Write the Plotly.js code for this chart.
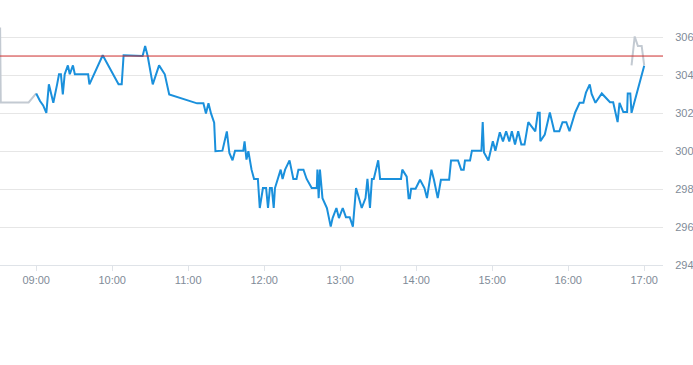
<!DOCTYPE html>
<html>
<head>
<meta charset="utf-8">
<script src="https://cdn.plot.ly/plotly-3.0.1.min.js"></script>
<style>html,body{margin:0;padding:0;background:#fff;}#chart{width:693px;height:365px;}</style>
</head>
<body>
<div id="chart"></div>
<script>
const day = '2024-01-02 ';
const prevClose = 305.0;

const preTimes = ['08:31:30','08:32:00','08:54:00','09:00:00'];
const preValues = [306.5, 302.56, 302.56, 303.03];

const postTimes = ['16:50:00','16:52:30','16:55:00','16:58:00','17:00:00'];
const postValues = [304.51, 306.03, 305.53, 305.53, 304.51];

const times = ['09:00:00','09:03:00','09:05:30','09:08:00','09:10:00','09:13:30','09:16:30','09:18:00','09:19:30','09:21:00',
'09:22:30','09:25:00','09:26:30','09:29:00','09:30:30','09:41:00','09:42:00','09:52:30','10:05:00','10:07:30',
'10:09:00','10:24:00','10:26:00','10:28:00','10:32:00','10:37:00','10:41:30','10:45:00','11:07:00','11:12:00',
'11:14:00','11:16:00','11:18:00','11:20:30','11:21:30','11:27:00','11:30:30','11:32:30','11:35:00','11:37:00',
'11:43:30','11:44:30','11:46:00','11:47:30','11:50:00','11:52:00','11:55:00','11:56:30','11:59:00','12:01:30',
'12:03:00','12:04:30','12:06:00','12:07:30','12:08:30','12:13:00','12:14:30','12:16:30','12:20:00','12:23:00',
'12:25:30','12:27:00','12:31:00','12:33:30','12:37:30','12:41:30','12:42:00','12:43:00','12:44:00','12:46:00',
'12:49:30','12:52:30','12:54:00','12:57:00','12:59:00','13:02:00','13:04:30','13:07:30','13:10:00','13:12:30',
'13:17:00','13:20:00','13:21:30','13:23:30','13:25:00','13:26:30','13:30:00','13:31:30','13:48:00','13:49:00',
'13:52:30','13:54:00','13:55:00','13:56:00','13:59:30','14:03:00','14:06:30','14:08:30','14:12:00','14:14:00',
'14:17:00','14:19:30','14:26:00','14:27:30','14:33:00','14:35:30','14:37:30','14:38:30','14:42:30','14:44:00',
'14:51:30','14:52:30','14:53:30','14:57:00','15:00:30','15:02:30','15:06:00','15:08:30','15:11:00','15:13:30',
'15:15:30','15:18:00','15:20:30','15:23:00','15:25:30','15:28:30','15:34:00','15:36:00','15:37:30','15:38:00',
'15:41:30','15:45:30','15:49:00','15:53:00','15:55:30','15:58:30','16:01:00','16:05:30','16:09:00','16:12:00',
'16:14:00','16:17:00','16:18:30','16:21:30','16:26:30','16:33:00','16:35:30','16:39:00','16:40:30','16:43:30',
'16:46:30','16:47:00','16:49:00','16:50:00','17:00:00'];
const values = [303.03,302.63,302.40,302.01,303.51,302.54,303.51,304.04,304.04,302.98,
304.04,304.51,304.04,304.51,304.04,304.04,303.51,305.04,303.51,303.51,
305.04,305.00,305.53,305.00,303.51,304.51,304.04,302.98,302.51,302.51,
301.98,302.51,301.98,301.49,299.99,300.02,301.03,299.90,299.51,300.02,
300.02,300.51,299.55,299.99,299.02,298.53,298.53,297.00,298.05,298.05,
297.00,298.05,298.05,297.00,298.05,299.02,298.53,299.02,299.51,298.53,
298.53,299.02,299.02,298.53,298.05,298.05,299.02,297.52,299.02,297.52,
297.00,296.02,296.47,297.00,296.47,297.00,296.52,296.52,296.02,298.05,
297.00,297.52,298.53,297.00,298.53,298.53,299.51,298.53,298.53,299.02,
298.65,297.52,297.52,298.02,298.02,298.49,298.05,297.52,299.02,298.49,
297.52,298.49,298.49,299.50,299.50,299.02,299.02,299.50,299.50,300.02,
300.02,301.52,299.92,299.50,300.51,300.01,300.99,300.51,301.04,300.50,
301.04,300.34,301.04,300.34,300.34,301.52,301.04,302.01,302.01,300.51,
300.87,302.03,301.04,301.04,301.52,301.52,301.04,302.03,302.54,302.54,
303.07,303.51,303.01,302.54,303.03,302.57,302.57,301.52,302.54,302.05,
302.05,303.03,303.03,302.01,304.49];

const tickFont = {family: 'Liberation Sans, Arial, sans-serif', size: 11, color: '#7f8b98'};

const traces = [
  {x: preTimes.map(t => day + t), y: preValues, type: 'scatter', mode: 'lines',
   line: {color: '#c3cad2', width: 2}, hoverinfo: 'skip'},
  {x: postTimes.map(t => day + t), y: postValues, type: 'scatter', mode: 'lines',
   line: {color: '#c3cad2', width: 2}, hoverinfo: 'skip'},
  {x: times.map(t => day + t), y: values, type: 'scatter', mode: 'lines',
   line: {color: '#1a90dc', width: 2}, hoverinfo: 'skip'}
];

const layout = {
  width: 693, height: 365,
  margin: {l: 0, r: 30, t: 0, b: 100},
  paper_bgcolor: '#ffffff', plot_bgcolor: '#ffffff',
  showlegend: false,
  xaxis: {
    type: 'date',
    range: [day + '08:31:25', day + '17:14:50'],
    tickformat: '%H:%M', dtick: 3600000, tick0: day + '09:00:00',
    showgrid: false, zeroline: false,
    showline: true, linecolor: '#dfe3e8', linewidth: 1,
    ticks: 'outside', ticklen: 5, tickcolor: '#dfe3e8',
    tickfont: tickFont
  },
  yaxis: {
    side: 'right',
    range: [294, 307.95], dtick: 2, tick0: 294,
    showgrid: true, gridcolor: '#e6e6e6', gridwidth: 1,
    zeroline: false, showline: false,
    ticks: 'outside', ticklen: 9, tickcolor: 'rgba(0,0,0,0)',
    tickfont: tickFont
  },
  shapes: [{type: 'line', xref: 'paper', x0: 0, x1: 1, yref: 'y', y0: prevClose, y1: prevClose,
            line: {color: '#cc2b2b', width: 1}}]
};

Plotly.newPlot('chart', traces, layout, {staticPlot: true, displayModeBar: false});
</script>
</body>
</html>
